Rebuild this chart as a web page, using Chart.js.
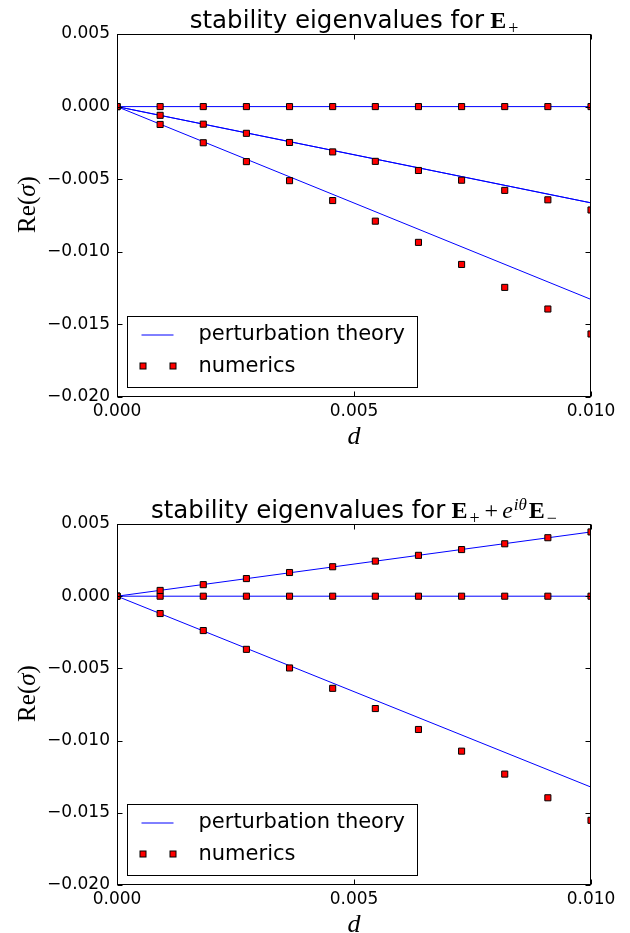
<!DOCTYPE html>
<html>
<head>
<meta charset="utf-8">
<script src="https://cdn.jsdelivr.net/npm/chart.js@4.4.0/dist/chart.umd.min.js"></script>
<style>
html, body { margin: 0; padding: 0; background: #fff; }
#wrap { width: 630px; height: 933px; position: relative; }
canvas { position: absolute; left: 0; }
</style>
</head>
<body>
<div id="wrap">
  <canvas id="topChart" width="630" height="466" style="top:0"></canvas>
  <canvas id="bottomChart" width="630" height="467" style="top:466px"></canvas>
</div>
<script>
// d values of the numerical runs and of the theory lines
const dNumerics = [0, 0.00091, 0.00182, 0.00273, 0.00364, 0.00455, 0.00545, 0.00636, 0.00727, 0.00818, 0.00909, 0.01];
const dTheory = [0, 0.01];

// E+ case
const topTheoryFlat = [0, 0];
const topTheoryMid = [0, -0.00663];
const topTheorySteep = [0, -0.01328];
const topNumFlat = [0, 0, 0, 0, 0, 0, 0, 0, 0, 0, 0, 0];
const topNumMid = [0, -0.0006, -0.00121, -0.00184, -0.00247, -0.00312, -0.00377, -0.0044, -0.00507, -0.00577, -0.00642, -0.00712];
const topNumSteep = [0, -0.00123, -0.00249, -0.00379, -0.0051, -0.00647, -0.00789, -0.00935, -0.01087, -0.01245, -0.01394, -0.01566];

// E+ + e^{i theta} E- case
const botTheoryUp = [0, 0.00445];
const botTheoryFlat = [0, 0];
const botTheorySteep = [0, -0.01322];
const botNumUp = [0, 0.0004, 0.0008, 0.00122, 0.00164, 0.00204, 0.00243, 0.00283, 0.00323, 0.00363, 0.00405, 0.00445];
const botNumFlat = [0, 0, 0, 0, 0, 0, 0, 0, 0, 0, 0, 0];
const botNumSteep = [0, -0.0012, -0.00238, -0.00368, -0.00497, -0.00638, -0.00778, -0.00923, -0.01073, -0.01232, -0.01396, -0.01552];

const yTicks = [0.005, 0, -0.005, -0.01, -0.015, -0.02];
const xTicks = [0, 0.005, 0.01];

const SANS = '"DejaVu Sans", sans-serif';
const SERIF = '"Liberation Serif", serif';

function pairs(xs, ys) {
    return xs.map((x, i) => ({ x: x, y: ys[i] }));
}

function theoryLine(ys) {
    return {
        type: 'scatter', data: pairs(dTheory, ys), showLine: true,
        borderColor: '#0000ff', borderWidth: 1, pointRadius: 0, order: 2, clip: 0
    };
}

function numericSet(ys) {
    return {
        type: 'scatter', data: pairs(dNumerics, ys), showLine: false,
        pointStyle: 'rect', pointRadius: 4.3, pointBorderWidth: 1,
        pointBorderColor: '#000', pointBackgroundColor: '#ff0000',
        borderColor: '#000', backgroundColor: '#ff0000', order: 1, clip: 0
    };
}

function fmt(v) {
    const s = Math.abs(v).toFixed(3);
    return (v < -1e-12 ? '\u2212' : '') + s;
}

const decorPlugin = {
    id: 'decor',
    afterDraw(chart, args, opts) {
        const ctx = chart.ctx;
        const a = chart.chartArea;
        const L = Math.round(a.left) + 0.5, R = Math.round(a.right) - 0.5;
        const T = Math.round(a.top) + 0.5, B = Math.round(a.bottom) - 0.5;
        const xs = chart.scales.x, ys = chart.scales.y;
        ctx.save();
        ctx.strokeStyle = '#000';
        ctx.lineWidth = 1;

        // inward ticks on all four sides
        ctx.beginPath();
        xs.ticks.forEach(t => {
            const px = Math.round(xs.getPixelForValue(t.value)) + 0.5;
            ctx.moveTo(px, B); ctx.lineTo(px, B - 5);
            ctx.moveTo(px, T); ctx.lineTo(px, T + 5);
        });
        ys.ticks.forEach(t => {
            const py = Math.round(ys.getPixelForValue(t.value)) + 0.5;
            ctx.moveTo(L, py); ctx.lineTo(L + 5, py);
            ctx.moveTo(R, py); ctx.lineTo(R - 5, py);
        });
        ctx.stroke();
        ctx.strokeRect(L, T, R - L, B - T);

        // title, mixed text and math
        ctx.fillStyle = '#000';
        ctx.textBaseline = 'alphabetic';
        ctx.textAlign = 'left';
        let total = 0;
        opts.title.forEach(p => { ctx.font = p.font; total += ctx.measureText(p.text).width + (p.gap || 0); });
        let x = (a.left + a.right) / 2 - total / 2;
        const base = a.top - 6;
        opts.title.forEach(p => {
            ctx.font = p.font;
            x += p.gap || 0;
            ctx.fillText(p.text, x, base + (p.dy || 0));
            x += ctx.measureText(p.text).width;
        });

        // y label Re(sigma)
        ctx.save();
        ctx.translate(28, (a.top + a.bottom) / 2 - 11);
        ctx.rotate(-Math.PI / 2);
        ctx.textBaseline = 'middle';
        const yl = [{ text: 'Re(', font: '25px ' + SERIF }, { text: '\u03c3', font: 'italic 25px ' + SERIF }, { text: ')', font: '25px ' + SERIF }];
        let w = 0;
        yl.forEach(p => { ctx.font = p.font; w += ctx.measureText(p.text).width; });
        let lx = -w / 2;
        yl.forEach(p => { ctx.font = p.font; ctx.fillText(p.text, lx, 0); lx += ctx.measureText(p.text).width; });
        ctx.restore();

        // x label d
        ctx.font = 'italic 26px ' + SERIF;
        ctx.textAlign = 'center';
        ctx.textBaseline = 'middle';
        ctx.fillText('d', (a.left + a.right) / 2, a.bottom + 40);

        // legend box, lower left
        const lx0 = Math.round(a.left) + 10.5, lw = 290, lh = 71;
        const ly0 = Math.round(a.bottom) - 9.5 - lh;
        ctx.fillStyle = '#fff';
        ctx.fillRect(lx0, ly0, lw, lh);
        ctx.strokeStyle = '#000';
        ctx.strokeRect(lx0, ly0, lw, lh);
        ctx.strokeStyle = '#0000ff';
        ctx.beginPath();
        ctx.moveTo(lx0 + 14, ly0 + 18.5);
        ctx.lineTo(lx0 + 46, ly0 + 18.5);
        ctx.stroke();
        [lx0 + 15.5, lx0 + 45.5].forEach(cx => {
            ctx.fillStyle = '#ff0000';
            ctx.fillRect(cx - 3, ly0 + 46.5, 6, 6);
            ctx.strokeStyle = '#000';
            ctx.strokeRect(cx - 3, ly0 + 46.5, 6, 6);
        });
        ctx.fillStyle = '#000';
        ctx.font = '21px ' + SANS;
        ctx.textAlign = 'left';
        ctx.textBaseline = 'middle';
        ctx.fillText('perturbation theory', lx0 + 71, ly0 + 18);
        ctx.fillText('numerics', lx0 + 71, ly0 + 50);
        ctx.restore();
    }
};

function makeChart(id, datasets, titleParts, padTop, xHeight) {
    return new Chart(document.getElementById(id), {
        type: 'scatter',
        data: { datasets: datasets },
        plugins: [decorPlugin],
        options: {
            responsive: false,
            animation: false,
            devicePixelRatio: 1,
            layout: { padding: { top: padTop, right: 39, left: 0, bottom: 0 } },
            plugins: {
                legend: { display: false },
                tooltip: { enabled: false },
                decor: { title: titleParts }
            },
            scales: {
                x: {
                    type: 'linear', min: 0, max: 0.01,
                    afterBuildTicks: s => { s.ticks = xTicks.map(v => ({ value: v })); },
                    afterFit: s => { s.height = xHeight; },
                    grid: { display: false, drawTicks: false },
                    border: { display: false },
                    ticks: { callback: fmt, color: '#000', font: { family: SANS, size: 17 }, padding: 4, maxRotation: 0, autoSkip: false }
                },
                y: {
                    type: 'linear', min: -0.02, max: 0.005,
                    afterBuildTicks: s => { s.ticks = yTicks.map(v => ({ value: v })); },
                    afterFit: s => { s.width = 117; },
                    grid: { display: false, drawTicks: false },
                    border: { display: false },
                    ticks: { callback: fmt, color: '#000', font: { family: SANS, size: 17 }, padding: 7, autoSkip: false }
                }
            }
        }
    });
}

makeChart('topChart', [
    theoryLine(topTheoryFlat), theoryLine(topTheoryMid), theoryLine(topTheoryMid), theoryLine(topTheorySteep),
    numericSet(topNumFlat), numericSet(topNumMid), numericSet(topNumSteep)
], [
    { text: 'stability eigenvalues for', font: '24.5px ' + SANS },
    { text: 'E', font: 'bold 24px ' + SERIF, gap: 6 },
    { text: '+', font: '18px ' + SERIF, dy: 6, gap: 2 }
], 34, 69);

makeChart('bottomChart', [
    theoryLine(botTheoryUp), theoryLine(botTheoryFlat), theoryLine(botTheorySteep),
    numericSet(botNumUp), numericSet(botNumFlat), numericSet(botNumSteep)
], [
    { text: 'stability eigenvalues for', font: '24.5px ' + SANS },
    { text: 'E', font: 'bold 24px ' + SERIF, gap: 6 },
    { text: '+', font: '18px ' + SERIF, dy: 6, gap: 2 },
    { text: '+', font: '24px ' + SERIF, gap: 5 },
    { text: 'e', font: 'italic 24px ' + SERIF, gap: 4 },
    { text: 'i\u03b8', font: 'italic 17px ' + SERIF, dy: -8, gap: 1 },
    { text: 'E', font: 'bold 24px ' + SERIF, gap: 2 },
    { text: '\u2212', font: '18px ' + SERIF, dy: 6, gap: 2 }
], 58, 48);
</script>
</body>
</html>
